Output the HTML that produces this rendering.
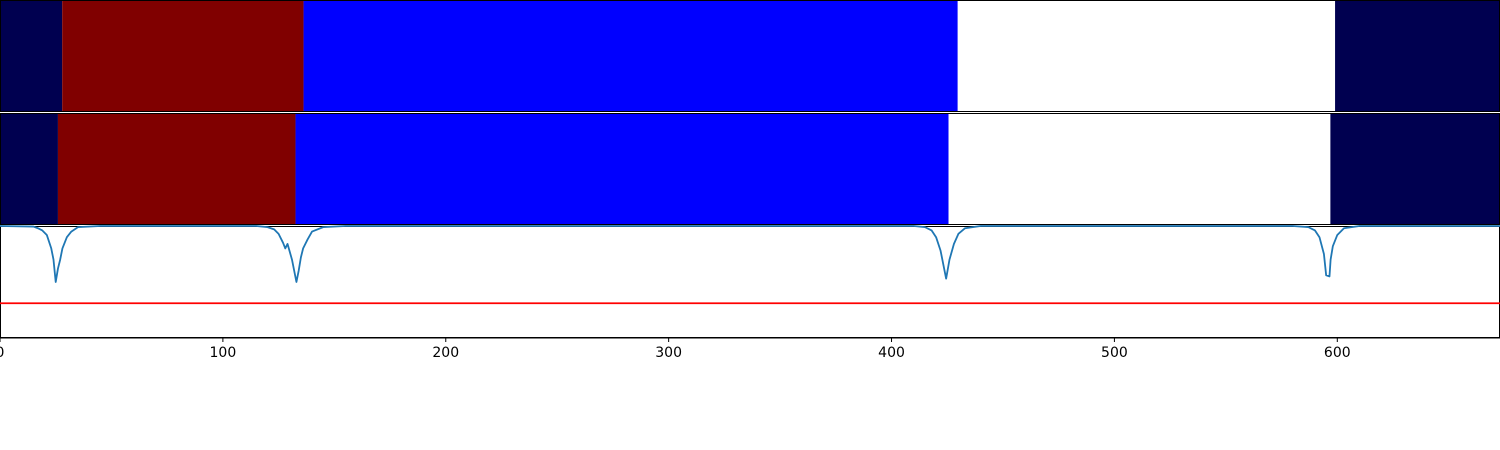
<!DOCTYPE html>
<html><head><meta charset="utf-8"><style>
html,body{margin:0;padding:0;background:#fff;}
svg{display:block;}
text{font-family:"DejaVu Sans","Liberation Sans",sans-serif;font-size:14px;fill:#000;}
</style></head><body>
<svg id="chart" width="1500" height="450" xmlns="http://www.w3.org/2000/svg"></svg>
<script>
const row1Bounds=[0,27.9,136.2,429.7,599,673];
const row1Colors=["#000050","#800000","#0000ff","#ffffff","#000050"];
const row2Bounds=[0,26,132.6,425.6,596.9,673];
const row2Colors=["#000050","#800000","#0000ff","#ffffff","#000050"];
const lineX=[0,15,17,19,21,23,24,25,26,27,28,30,32,35,45,115,120,123,125,127,128,129,130,131,132,133,134,135,136,138,140,145,155,410,415,418,420,422,424.5,426,428,430,433,440,580,587,590,592,594,595,596.5,597,598,600,603,610,673];
const lineY=[1,0.995,0.98,0.96,0.92,0.8,0.7,0.5,0.62,0.7,0.8,0.9,0.95,0.99,1,1,0.99,0.97,0.93,0.85,0.8,0.84,0.77,0.7,0.6,0.5,0.6,0.72,0.8,0.88,0.95,0.99,1,1,0.99,0.96,0.9,0.78,0.53,0.7,0.84,0.93,0.98,1,1,0.99,0.96,0.9,0.75,0.56,0.55,0.7,0.82,0.92,0.98,1,1];
const threshold=0.31;
const xTicks=[0,100,200,300,400,500,600];

const svg=document.getElementById('chart');
const NS="http://www.w3.org/2000/svg";
const X0=0,X1=1500,DMAX=673;
const xs=v=>X0+v*(X1-X0)/DMAX;
const P3T=226,P3B=338;
const ys=v=>P3B-v*(P3B-P3T);
function mk(t,a){const e=document.createElementNS(NS,t);for(const k in a)e.setAttribute(k,a[k]);svg.appendChild(e);return e;}

function drawRow(bounds,colors,top,h,name){
  for(let i=0;i<colors.length;i++){
    const r=mk('rect',{x:xs(bounds[i]),y:top,width:xs(bounds[i+1])-xs(bounds[i]),height:h,fill:colors[i]});
    
    
  }
  const b=mk('rect',{x:0.5,y:top+0.5,width:1499,height:h-1,fill:'none',stroke:'#000','stroke-width':1});
  
  
}
drawRow(row1Bounds,row1Colors,0,112,'heatmap-row-1');
drawRow(row2Bounds,row2Colors,113,112,'heatmap-row-2');

const f3=mk('rect',{x:0.5,y:P3T+0.5,width:1499,height:P3B-P3T-1,fill:'none',stroke:'#000','stroke-width':1});



const th=mk('line',{x1:0,x2:1500,y1:ys(threshold),y2:ys(threshold),stroke:'#ff0000','stroke-width':1.8});



let d='';
for(let i=0;i<lineX.length;i++)d+=(i?'L':'M')+xs(lineX[i]).toFixed(2)+','+ys(lineY[i]).toFixed(2);
const pl=mk('path',{d:d,fill:'none',stroke:'#1f77b4','stroke-width':1.8,'stroke-linejoin':'round'});



const ax=mk('line',{x1:0,x2:1500,y1:P3B,y2:P3B,stroke:'#000','stroke-width':1});


xTicks.forEach(t=>{
  const tk=mk('line',{x1:xs(t),x2:xs(t),y1:P3B,y2:P3B+4,stroke:'#000','stroke-width':1});
  
  
  const tx=mk('text',{x:xs(t),y:P3B+19,'text-anchor':'middle'});
  tx.textContent=t;
  
  
});
</script>
</body></html>
